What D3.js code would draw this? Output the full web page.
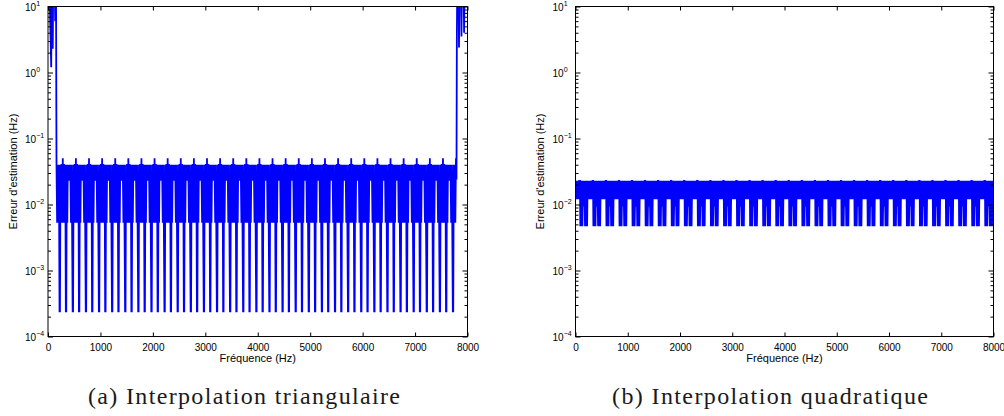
<!DOCTYPE html>
<html>
<head>
<meta charset="utf-8">
<script src="https://cdn.jsdelivr.net/npm/d3@7"></script>
<style>
  body { margin: 0; background: #fff; }
</style>
</head>
<body>
<script>
// tick values
const freqTicks = [0, 1000, 2000, 3000, 4000, 5000, 6000, 7000, 8000];
const decadeTicks = [1e-4, 1e-3, 1e-2, 1e-1, 1, 10];

// (a) triangular interpolation: start of the sweep, one 250 Hz cycle repeated, end of the sweep
const triStartFreq = [0, 20, 61, 72, 84, 91, 100, 126, 137, 146, 152, 162, 174, 186, 198, 208];
const triStartErr = [40, 40, 1.2, 30, 30, 2.3, 30, 30, 6, 30, 30, 0.04, 0.0053, 0.04, 0.0053, 0.04];
const triCycleStarts = [220, 470, 720, 970, 1220, 1470, 1720, 1970, 2220, 2470, 2720, 2970, 3220, 3470, 3720,
  3970, 4220, 4470, 4720, 4970, 5220, 5470, 5720, 5970, 6220, 6470, 6720, 6970, 7220, 7470];
const triCycleOffset = [0, 8, 18, 28, 38, 49, 62, 75, 86, 97, 110, 120, 128, 138, 148, 158, 170, 182, 194, 206, 218, 232];
const triCycleErr = [2.4e-4, 2.4e-4, 0.04, 0.0053, 0.041, 0.0053, 0.05, 0.0053, 0.041, 0.0053, 0.04,
  2.4e-4, 2.4e-4, 0.04, 0.0053, 0.04, 0.023, 0.04, 0.023, 0.04, 0.0053, 0.04];
const triEndFreq = [7720, 7728, 7738, 7748, 7758, 7768, 7780, 7790, 7797, 7806, 7826, 7838, 7850, 7872, 7885, 7897, 7922, 7935, 7947, 8000];
const triEndErr = [2.4e-4, 2.4e-4, 0.04, 0.0053, 0.04, 0.0053, 0.05, 0.024, 3, 40, 40, 2.4, 40, 40, 3.5, 40, 40, 4, 40, 40];

// (b) quadratic interpolation
const quadStartFreq = [0, 12, 24, 36, 48, 60, 72];
const quadStartErr = [0.0228, 0.012, 0.0228, 0.012, 0.0228, 0.012, 0.0228];
const quadCycleStarts = [86, 336, 586, 836, 1086, 1336, 1586, 1836, 2086, 2336, 2586, 2836, 3086, 3336, 3586, 3836,
  4086, 4336, 4586, 4836, 5086, 5336, 5586, 5836, 6086, 6336, 6586, 6836, 7086, 7336, 7586, 7836];
const quadCycleOffset = [0, 6, 16, 26, 36, 46, 58, 71, 84, 96, 106, 116, 126, 136, 146, 158, 170, 182, 194, 206, 218, 230, 240];
const quadCycleErr = [0.0228, 0.0047, 0.0228, 0.0047, 0.0228, 0.0047, 0.0228, 0.0093, 0.0228, 0.0047, 0.0228, 0.0047,
  0.0228, 0.0047, 0.0228, 0.012, 0.0228, 0.012, 0.0228, 0.012, 0.0228, 0.012, 0.0228];

const width = 1004;
const height = 416;
const plotTop = 6.5;
const plotBottom = 336.5;
const sans = "'Liberation Sans', Arial, Helvetica, sans-serif";
const serif = "'Liberation Serif', 'Times New Roman', serif";

const sweep = (startF, startE, starts, offs, errs, endF, endE) => {
  const pts = startF.map((f, i) => [f, startE[i]]);
  starts.forEach((s) => offs.forEach((o, i) => pts.push([s + o, errs[i]])));
  if (endF) endF.forEach((f, i) => pts.push([f, endE[i]]));
  return pts;
};

const panels = [
  {
    id: "a", left: 48, right: 467.5, caption: "(a) Interpolation triangulaire", capX: 244, capW: 312,
    data: sweep(triStartFreq, triStartErr, triCycleStarts, triCycleOffset, triCycleErr, triEndFreq, triEndErr),
  },
  {
    id: "b", left: 575.5, right: 993.5, caption: "(b) Interpolation quadratique", capX: 770, capW: 316,
    data: sweep(quadStartFreq, quadStartErr, quadCycleStarts, quadCycleOffset, quadCycleErr),
  },
];

const svg = d3
  .select("body")
  .append("svg")
  .attr("width", width)
  .attr("height", height)
  .style("display", "block");

panels.forEach((p) => {
  const xScale = d3.scaleLinear().domain([0, 8000]).range([p.left, p.right]);
  const yScale = d3.scaleLog().domain([1e-4, 10]).range([plotBottom, plotTop]);
  const minorTicks = yScale.ticks().filter((d) => !decadeTicks.some((t) => Math.abs(t - d) / t < 1e-6));

  svg
    .append("clipPath")
    .attr("id", `clip-${p.id}`)
    .append("rect")
    .attr("x", p.left)
    .attr("y", plotTop)
    .attr("width", p.right - p.left)
    .attr("height", plotBottom - plotTop);

  const line = d3
    .line()
    .x(([f]) => xScale(f))
    .y(([, e]) => yScale(e));

  svg
    .append("path")
    .datum(p.data)
    .attr("clip-path", `url(#clip-${p.id})`)
    .attr("fill", "none")
    .attr("stroke", "#0000ff")
    .attr("stroke-width", 1.8)
    .attr("stroke-linejoin", "miter")
    .attr("d", line);

  const axes = svg.append("g").style("font-family", sans);

  const xBottom = axes
    .append("g")
    .attr("transform", `translate(0 ${plotBottom})`)
    .call(d3.axisBottom(xScale).tickValues(freqTicks).tickSize(-4).tickSizeOuter(0).tickPadding(7).tickFormat(d3.format("d")));
  const xTop = axes
    .append("g")
    .attr("transform", `translate(0 ${plotTop})`)
    .call(d3.axisTop(xScale).tickValues(freqTicks).tickSize(-4).tickSizeOuter(0).tickFormat(""));

  const yLeft = axes
    .append("g")
    .attr("transform", `translate(${p.left} 0)`)
    .call(d3.axisLeft(yScale).tickValues(decadeTicks).tickSize(-5).tickSizeOuter(0));
  const yLeftMinor = axes
    .append("g")
    .attr("transform", `translate(${p.left} 0)`)
    .call(d3.axisLeft(yScale).tickValues(minorTicks).tickSize(-3).tickSizeOuter(0).tickFormat(""));
  const yRight = axes
    .append("g")
    .attr("transform", `translate(${p.right} 0)`)
    .call(d3.axisRight(yScale).tickValues(decadeTicks).tickSize(-5).tickSizeOuter(0).tickFormat(""));
  const yRightMinor = axes
    .append("g")
    .attr("transform", `translate(${p.right} 0)`)
    .call(d3.axisRight(yScale).tickValues(minorTicks).tickSize(-3).tickSizeOuter(0).tickFormat(""));

  [xBottom, xTop, yLeft, yLeftMinor, yRight, yRightMinor].forEach((g) => {
    g.select(".domain").remove();
    g.selectAll("line").attr("stroke", "#000");
  });

  xBottom.selectAll("text").attr("font-size", 10).attr("fill", "#000").style("font-family", sans);

  // 10^n labels
  yLeft.selectAll(".tick text").each(function (d) {
    const exp = String(Math.round(Math.log10(d))).replace("-", "\u2212");
    const t = d3.select(this)
      .text("")
      .attr("x", -23)
      .attr("dy", null)
      .attr("y", 3.8)
      .attr("text-anchor", "start")
      .attr("font-size", 10)
      .style("font-family", sans)
      .attr("fill", "#000");
    t.append("tspan").text("10");
    t.append("tspan").attr("dy", -4.6).attr("font-size", 7).text(exp);
  });

  // box
  axes
    .append("rect")
    .attr("x", p.left)
    .attr("y", plotTop)
    .attr("width", p.right - p.left)
    .attr("height", plotBottom - plotTop)
    .attr("fill", "none")
    .attr("stroke", "#000")
    .attr("stroke-width", 1);

  axes
    .append("text")
    .attr("x", (p.left + p.right) / 2)
    .attr("y", 361.5)
    .attr("text-anchor", "middle")
    .attr("font-size", 11)
    .attr("fill", "#000")
    .text("Fréquence (Hz)");

  axes
    .append("text")
    .attr("transform", `translate(${p.left - 31.5} ${(plotTop + plotBottom) / 2}) rotate(-90)`)
    .attr("text-anchor", "middle")
    .attr("font-size", 11)
    .attr("fill", "#000")
    .text("Erreur d'estimation (Hz)");

  svg
    .append("text")
    .attr("x", p.capX)
    .attr("y", 404)
    .attr("text-anchor", "middle")
    .style("font-family", serif)
    .attr("font-size", 24)
    .attr("fill", "#1a1a1a")
    .attr("textLength", p.capW)
    .attr("lengthAdjust", "spacing")
    .text(p.caption);
});
</script>
</body>
</html>
